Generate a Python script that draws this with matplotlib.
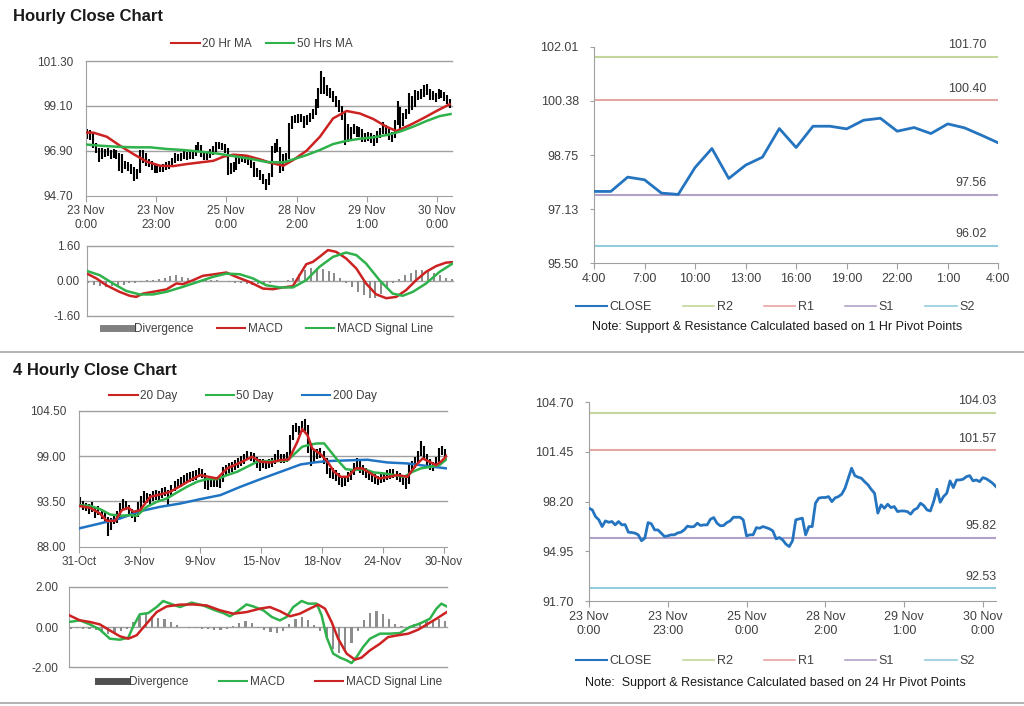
import matplotlib
matplotlib.use('Agg')
import matplotlib.pyplot as plt
from matplotlib.lines import Line2D
import numpy as np

plt.rcParams['font.family'] = ['Liberation Sans', 'DejaVu Sans']

# ------------------------------------------------------------------ data
hourly_close = [
    97.77, 97.66, 97.22, 97.01, 96.57, 96.94, 96.85, 96.90, 96.68, 96.90,
    96.68, 96.70, 96.20, 96.18, 96.14, 96.03, 95.64, 95.81, 96.83, 96.75,
    96.35, 96.35, 96.14, 95.92, 95.96, 96.03, 96.03, 96.15, 96.20, 96.35,
    96.60, 96.55, 96.57, 96.79, 96.64, 96.68, 96.68, 97.05, 97.16, 96.79,
    96.62, 96.64, 96.83, 96.94, 97.18, 97.18, 97.18, 97.01, 95.96, 96.03,
    96.03, 96.50, 96.46, 96.57, 96.50, 96.42, 96.29, 95.77, 95.85, 95.70,
    95.42, 95.26, 95.64, 97.01, 97.07, 97.12, 96.03, 96.57, 96.57, 98.10,
    98.43, 98.47, 98.47, 98.53, 98.20, 98.45, 98.53, 98.69, 99.08, 99.73,
    100.39, 99.90, 99.80, 99.73, 99.50, 99.30, 99.00, 98.75, 97.45, 97.99,
    97.77, 98.03, 97.81, 97.88, 97.55, 97.59, 97.59, 97.55, 97.38, 97.66,
    97.77, 98.10, 97.94, 97.66, 97.59, 98.20, 99.01, 98.16, 98.53, 98.75,
    99.56, 99.12, 99.62, 99.62, 99.67, 99.84, 99.90, 99.56, 99.62, 99.51,
    99.77, 99.70, 99.56, 99.40, 99.18]
hourly_low = [
    97.50, 97.45, 97.05, 96.80, 96.35, 96.50, 96.60, 96.65, 96.50, 96.55,
    96.50, 95.90, 95.80, 96.00, 95.90, 95.75, 95.40, 95.50, 95.80, 96.30,
    96.15, 96.10, 95.95, 95.80, 95.80, 95.85, 95.85, 95.95, 96.00, 96.15,
    96.30, 96.40, 96.40, 96.50, 96.45, 96.50, 96.50, 96.65, 96.90, 96.60,
    96.45, 96.45, 96.55, 96.70, 96.85, 97.00, 96.95, 96.80, 95.70, 95.75,
    95.85, 95.95, 96.25, 96.35, 96.30, 96.20, 96.05, 95.60, 95.60, 95.45,
    95.25, 95.00, 95.20, 95.60, 96.80, 96.85, 95.80, 95.90, 96.30, 96.50,
    97.95, 98.25, 98.25, 98.30, 98.00, 98.15, 98.30, 98.45, 98.65, 99.00,
    99.70, 99.70, 99.60, 99.50, 99.30, 99.05, 98.80, 98.40, 97.20, 97.35,
    97.50, 97.70, 97.60, 97.60, 97.35, 97.35, 97.40, 97.30, 97.15, 97.30,
    97.55, 97.70, 97.70, 97.45, 97.35, 97.55, 98.15, 97.95, 98.10, 98.45,
    98.70, 98.90, 99.05, 99.40, 99.45, 99.55, 99.65, 99.40, 99.40, 99.30,
    99.45, 99.50, 99.35, 99.20, 99.00]
hourly_high = [
    97.95, 97.90, 97.75, 97.30, 97.05, 97.05, 97.00, 97.05, 96.95, 97.00,
    96.95, 96.80, 96.75, 96.40, 96.35, 96.25, 96.10, 96.00, 96.95, 96.95,
    96.80, 96.50, 96.40, 96.20, 96.15, 96.20, 96.25, 96.35, 96.40, 96.55,
    96.80, 96.75, 96.80, 97.00, 96.85, 96.90, 96.90, 97.20, 97.35, 97.20,
    96.90, 96.85, 97.00, 97.15, 97.35, 97.35, 97.30, 97.25, 97.05, 96.30,
    96.35, 96.65, 96.65, 96.75, 96.70, 96.60, 96.50, 96.35, 96.05, 95.95,
    95.75, 95.50, 95.80, 97.15, 97.30, 97.50, 97.10, 96.75, 96.80, 98.25,
    98.60, 98.65, 98.70, 98.70, 98.60, 98.65, 98.75, 98.95, 99.45, 100.00,
    100.80, 100.50, 100.10, 100.00, 99.85, 99.60, 99.40, 99.10, 98.85, 98.20,
    98.05, 98.20, 98.10, 98.05, 97.95, 97.75, 97.80, 97.75, 97.65, 97.85,
    98.00, 98.30, 98.15, 97.95, 97.80, 98.40, 99.35, 99.05, 98.75, 98.95,
    99.75, 99.60, 99.90, 99.85, 99.95, 100.10, 100.15, 99.95, 99.85, 99.75,
    99.95, 99.90, 99.80, 99.65, 99.45]
hourly_ticks = ['23 Nov\n0:00', '23 Nov\n23:00', '25 Nov\n0:00',
                '28 Nov\n2:00', '29 Nov\n1:00', '30 Nov\n0:00']

ma20_x = [0, 2.6, 7.2, 11.7, 16.3, 20.8, 25.4, 29.9, 34.5, 39, 43.6, 47, 50.4,
          55, 59.5, 62.9, 67.5, 70.9, 75.4, 80, 84.5, 89.1, 93.6, 98.2, 102.7,
          106.1, 110.7, 115.2, 119.8, 124.3]
ma20 = [97.79, 97.79, 97.59, 97.15, 96.74, 96.37, 96.17, 96.15, 96.25, 96.33,
        96.41, 96.61, 96.71, 96.66, 96.48, 96.32, 96.17, 96.45, 96.90, 97.59,
        98.49, 98.85, 98.73, 98.46, 98.08, 97.87, 98.16, 98.49, 98.85, 99.18]
ma50_x = [0, 4.9, 10.6, 16.3, 22, 27.6, 33.3, 39, 44.7, 50.4, 56.1, 61.8, 67.5,
          70.9, 75.4, 80, 84.5, 89.1, 93.6, 98.2, 102.7, 107.3, 111.8, 116.4,
          120.9, 124.6]
ma50 = [97.21, 97.15, 97.10, 97.07, 97.07, 96.99, 96.94, 96.86, 96.77, 96.64,
        96.51, 96.35, 96.33, 96.48, 96.69, 96.94, 97.23, 97.39, 97.49, 97.56,
        97.67, 97.84, 98.08, 98.36, 98.60, 98.70]

h1_macd_x = [0, 3.2, 6.6, 11.1, 14.6, 16.8, 19.1, 22.5, 27.1, 30.5, 32.8, 36.2,
             39.6, 43, 47.6, 51, 55.5, 60.1, 63.5, 66.9, 70.3, 72.6, 74.9, 77.1,
             79.4, 82.3, 85.1, 88.5, 92, 95.3, 98.7, 102.2, 105.6, 109, 112.4,
             115.8, 119.2, 122.6, 124.9]
h1_macd = [0.33, 0.11, -0.20, -0.50, -0.68, -0.73, -0.58, -0.50, -0.39, -0.12,
           -0.15, 0.03, 0.23, 0.29, 0.38, 0.18, -0.05, -0.35, -0.38, -0.30,
           -0.24, 0.26, 0.76, 0.86, 1.09, 1.40, 1.32, 1.02, 0.56, -0.12, -0.61,
           -0.79, -0.73, -0.42, 0.03, 0.41, 0.67, 0.83, 0.85]
h1_sig_x = [0, 4.3, 8.9, 13.4, 18, 22.5, 27.1, 32.8, 38.5, 43, 47.6, 52.2, 56.7,
            61.2, 65.8, 70.3, 74.9, 79.4, 84, 88.5, 92, 95.3, 99.9, 104.4, 107.8,
            111.3, 115.8, 120.4, 124.9]
h1_sig = [0.45, 0.26, -0.12, -0.46, -0.62, -0.62, -0.50, -0.27, -0.02, 0.18,
          0.33, 0.30, 0.11, -0.20, -0.30, -0.30, 0.03, 0.64, 1.09, 1.29, 1.17,
          0.79, 0.03, -0.58, -0.68, -0.50, -0.12, 0.41, 0.79]
h1_div = [-0.10, -0.20, -0.25, -0.27, -0.25, -0.22, -0.18, -0.12, -0.08, -0.03,
          0.02, 0.05, 0.10, 0.15, 0.22, 0.25, 0.18, 0.12, 0.08, 0.05, 0.04, 0.05,
          0.03, 0.00, -0.05, -0.10, -0.12, -0.15, -0.17, -0.15, -0.12, -0.08,
          -0.05, 0.00, 0.05, 0.12, 0.30, 0.48, 0.60, 0.58, 0.52, 0.45, 0.35,
          0.15, -0.10, -0.30, -0.50, -0.65, -0.78, -0.80, -0.60, -0.35, -0.10,
          0.10, 0.25, 0.38, 0.48, 0.50, 0.45, 0.35, 0.25, 0.15, 0.10]

last24_close = [97.66, 97.66, 98.09, 98.01, 97.61, 97.57, 98.38, 98.95, 98.05,
                98.45, 98.69, 99.55, 98.98, 99.62, 99.62, 99.54, 99.80, 99.86,
                99.47, 99.58, 99.40, 99.69, 99.57, 99.35, 99.12]
last24_ticks = ['4:00', '7:00', '10:00', '13:00', '16:00', '19:00', '22:00',
                '1:00', '4:00']

pivot_names = ['R2', 'R1', 'S1', 'S2']
pivot_1h = [101.70, 100.40, 97.56, 96.02]
pivot_24h = [104.03, 101.57, 95.82, 92.53]

h4_low = [
    92.9, 92.5, 92.3, 92.0, 92.2, 91.5, 91.9, 91.4, 91.0, 89.3,
    90.0, 90.7, 90.9, 91.4, 92.5, 92.5, 91.8, 91.5, 91.0, 91.6,
    92.6, 93.3, 93.3, 93.0, 93.6, 93.7, 93.5, 93.9, 94.1, 93.1,
    94.2, 94.8, 95.1, 95.3, 95.5, 95.7, 95.9, 96.0, 96.1, 96.4,
    96.3, 95.0, 94.9, 95.2, 95.3, 95.3, 95.1, 95.9, 96.7, 96.9,
    97.1, 97.3, 97.5, 97.8, 98.0, 98.5, 98.4, 98.3, 97.5, 97.2,
    97.5, 97.4, 97.6, 97.7, 98.0, 98.4, 98.2, 98.1, 98.3, 98.8,
    101.0, 101.9, 101.5, 101.9, 102.0, 99.4, 97.8, 98.2, 98.7, 98.8,
    98.0, 96.8, 96.3, 96.2, 96.0, 95.5, 95.3, 95.4, 95.8, 96.1,
    96.7, 97.4, 97.0, 96.7, 96.3, 96.1, 95.9, 95.6, 95.5, 95.7,
    95.8, 96.1, 96.2, 96.3, 96.1, 95.9, 95.5, 95.0, 95.6, 97.2,
    97.6, 98.2, 99.0, 98.5, 97.9, 97.3, 97.2, 97.5, 98.3, 99.1,
    98.9]
h4_high = [
    94.0, 93.6, 93.3, 93.2, 93.4, 92.8, 92.9, 92.6, 92.3, 91.6,
    91.5, 91.9, 92.3, 93.3, 93.8, 93.5, 93.1, 92.6, 92.3, 93.4,
    94.2, 94.7, 94.5, 94.4, 94.8, 94.9, 94.7, 95.1, 95.3, 94.9,
    95.5, 96.0, 96.2, 96.5, 96.7, 96.9, 97.1, 97.2, 97.3, 97.6,
    97.4, 96.9, 96.3, 96.4, 96.5, 96.3, 96.3, 97.7, 97.9, 98.1,
    98.3, 98.5, 98.8, 99.0, 99.3, 99.6, 99.5, 99.4, 98.9, 98.7,
    98.6, 98.5, 98.7, 98.8, 99.3, 99.7, 99.3, 99.2, 99.5, 101.6,
    102.8, 103.0, 102.7, 103.2, 103.5, 102.8, 100.3, 99.7, 99.9, 100.0,
    99.6, 98.8, 97.6, 97.5, 97.3, 96.9, 96.5, 96.6, 97.1, 97.4,
    98.1, 98.8, 98.4, 97.9, 97.5, 97.3, 97.1, 96.8, 96.6, 96.9,
    97.0, 97.3, 97.4, 97.4, 97.2, 97.0, 96.7, 96.3, 98.0, 98.4,
    98.9, 99.6, 100.8, 100.2, 99.2, 98.6, 98.3, 98.9, 100.0, 100.2,
    99.9]
h4_ticks = ['31-Oct', '3-Nov', '9-Nov', '15-Nov', '18-Nov', '24-Nov', '30-Nov']

d20_x = [0, 3.7, 7, 9.2, 12, 14.2, 16.4, 18, 20.2, 23.5, 26.8, 30.1, 33.4, 36.7,
         40, 42.7, 45.5, 48.8, 53.2, 57, 59.8, 63.1, 66.4, 69.1, 71.9, 73.5,
         75.2, 76.8, 79.6, 81.8, 84, 86.2, 88.4, 91.1, 93.3, 96, 98.8, 102.1,
         104.8, 108.1, 110.9, 113.1, 115.3, 117.5, 119.1, 121]
d20 = [92.96, 92.72, 92.03, 91.14, 91.14, 92.44, 92.72, 92.23, 92.44, 94.05,
       94.34, 94.66, 95.35, 96.08, 96.69, 96.48, 96.28, 97.50, 98.22, 98.91,
       98.31, 98.22, 98.51, 98.59, 100.73, 102.27, 101.54, 99.92, 99.20, 98.31,
       97.09, 96.48, 96.48, 97.50, 97.50, 96.89, 96.28, 96.48, 96.69, 96.48,
       97.90, 98.71, 98.31, 97.90, 98.31, 99.03]
d50_x = [0, 3.7, 7, 10.3, 13.6, 16.9, 19.1, 22.4, 25.7, 29, 32.3, 35.6, 38.9,
         42.2, 45.5, 48.8, 52.1, 55.4, 58.7, 62, 65.3, 68.6, 70.8, 73.5, 76.3,
         78.5, 80.7, 82.9, 85.1, 87.8, 90.5, 93.8, 97.1, 100.4, 103.7, 107,
         109.8, 112.5, 115.8, 118.6, 121]
d50 = [93.04, 92.96, 92.56, 91.91, 91.75, 91.83, 91.75, 92.84, 93.45, 93.85,
       94.58, 95.27, 95.88, 96.20, 96.20, 96.69, 97.09, 97.70, 98.31, 98.39,
       98.39, 98.47, 99.20, 100.13, 100.41, 100.53, 100.53, 99.52, 98.51,
       97.41, 97.29, 97.41, 97.01, 96.89, 96.69, 96.48, 97.09, 97.50, 97.70,
       97.90, 98.63]
d200_x = [0, 7, 13.6, 20.2, 26.8, 33.4, 40, 46.6, 53.2, 59.8, 66.4, 73, 77.4,
          81.8, 88.4, 94.9, 101.5, 108.1, 114.7, 121]
d200 = [90.21, 90.82, 91.42, 92.31, 92.84, 93.24, 93.77, 94.26, 95.27, 96.20,
        97.09, 97.98, 98.22, 98.39, 98.47, 98.55, 98.22, 98.10, 97.78, 97.50]

h4_macd_x = [0, 3.4, 6.6, 9.8, 13, 16.2, 18.9, 20.5, 22.6, 25.3, 28, 30.1, 32.3,
             35.5, 39.2, 42.9, 46.2, 49.4, 51.5, 53.6, 56.8, 59, 62.2, 64.9,
             67.5, 69.7, 71.8, 74.5, 76.6, 79.3, 80.9, 82.5, 84.6, 86.8, 88.9,
             90.5, 92.1, 94.2, 96.4, 99.6, 102.8, 106, 109.2, 112.4, 115.6,
             117.7, 119.3, 121]
h4_macd = [0.25, 0.33, 0.13, -0.13, -0.58, -0.63, -0.53, 0.03, 0.63, 0.69, 0.99,
           1.29, 1.16, 0.99, 1.21, 1.07, 0.86, 0.69, 0.53, 0.74, 1.12, 1.02,
           0.83, 0.50, 0.33, 0.50, 0.99, 1.29, 1.16, 1.16, 0.58, -0.50, -1.32,
           -1.52, -1.65, -1.79, -1.49, -0.99, -0.58, -0.33, -0.33, -0.30, 0.00,
           0.17, 0.41, 0.91, 1.16, 1.02]
h4_sig_x = [0, 3.4, 6.6, 9.8, 13, 16.2, 18.9, 21.6, 24.8, 28, 31.2, 35.5, 39.7,
            44, 48.3, 52.6, 56.8, 61.1, 64.3, 67.5, 70.7, 73.9, 77.1, 79.8, 82,
            84.1, 86.2, 88.9, 91.6, 93.7, 96.4, 99.6, 102.2, 105.4, 108.7,
            111.9, 115.1, 117.7, 121]
h4_sig = [0.58, 0.33, 0.25, 0.13, -0.17, -0.46, -0.58, -0.41, 0.17, 0.74, 1.02,
          1.11, 1.12, 1.07, 0.83, 0.66, 0.74, 0.91, 0.99, 0.79, 0.53, 0.66, 0.91,
          1.11, 0.91, 0.25, -0.58, -1.32, -1.62, -1.52, -1.16, -0.83, -0.50,
          -0.41, -0.33, -0.13, 0.17, 0.41, 0.74]
h4_div = [-0.10, -0.05, -0.08, -0.12, -0.15, -0.25, -0.35, -0.30, -0.20, -0.08,
          0.25, 0.55, 0.65, 0.55, 0.45, 0.40, 0.25, 0.10, 0.02, -0.05, -0.05,
          -0.08, -0.12, -0.15, -0.15, -0.10, 0.05, 0.20, 0.32, 0.20, -0.05,
          -0.15, -0.25, -0.30, -0.20, 0.15, 0.40, 0.50, 0.35, 0.10, -0.20,
          -0.60, -1.10, -1.30, -1.20, -0.80, -0.20, 0.35, 0.70, 0.78, 0.65,
          0.40, 0.15, 0.05, 0.02, 0.15, 0.25, 0.30, 0.35, 0.38, 0.30]

# ------------------------------------------------------------------ style
GRID = '#a0a0a0'
RED = '#cc2222'
GREEN = '#2fb24c'
BLUE = '#1f74c4'
CLOSE = '#2474c0'
PIVOT_COLORS = ['#c3d69b', '#e6a6a4', '#b3a2c7', '#93cddd']
TXT = '#404040'

W, H = 1024, 706
fig = plt.figure(figsize=(W / 100, H / 100), dpi=100)


def rect(x0, y0, x1, y1):
    return [x0 / W, 1 - y1 / H, (x1 - x0) / W, (y1 - y0) / H]


def base_axes(ax, yticks, ylabels, grid_vals, bottom=True, ysize=8.5,
              xsize=8.5, ypad=3, ylen=0):
    for s in ['top', 'right']:
        ax.spines[s].set_visible(False)
    ax.spines['left'].set_color(GRID)
    ax.spines['bottom'].set_color(GRID)
    ax.spines['bottom'].set_visible(bottom)
    ax.set_yticks(yticks)
    ax.set_yticklabels(ylabels)
    ax.tick_params(axis='y', length=ylen, color=GRID, labelsize=ysize, pad=ypad,
                   labelcolor=TXT)
    ax.tick_params(axis='x', length=4, color=GRID, labelsize=xsize, pad=3,
                   labelcolor=TXT)
    for v in grid_vals:
        ax.axhline(v, color=GRID, lw=1.0, zorder=0, clip_on=False)
    ax.set_facecolor('none')


def legend(handles, labels, fx, fy, fs=8.5, hl=2.4, cs=2.3):
    fig.legend(handles, labels, loc='center', bbox_to_anchor=(fx / W, 1 - fy / H),
               ncol=len(labels), frameon=False, fontsize=fs, handlelength=hl,
               handletextpad=0.2, columnspacing=cs, labelcolor=TXT)


# titles & separators
fig.text(13 / W, 1 - 16 / H, 'Hourly Close Chart', fontsize=12, fontweight='bold',
         va='center', ha='left', color='#1a1a1a')
fig.text(13 / W, 1 - 370 / H, '4 Hourly Close Chart', fontsize=12,
         fontweight='bold', va='center', ha='left', color='#1a1a1a')
for yy in (352, 703):
    fig.add_artist(Line2D([0, 1], [1 - yy / H] * 2, transform=fig.transFigure,
                          color='#a6a6a6', lw=1.2))

# ---------------------------------------------------------- hourly candles
n1 = len(hourly_close)
xb = np.arange(n1) + 0.5
ax1 = fig.add_axes(rect(85.7, 61, 451.7, 195.7))
ax1.vlines(xb, hourly_low, hourly_high, color='black', lw=1.5, zorder=2)
ax1.plot(ma20_x, ma20, color=RED, lw=1.8, zorder=3)
ax1.plot(ma50_x, ma50, color=GREEN, lw=1.8, zorder=3)
ax1.set_xlim(0, n1)
ax1.set_ylim(94.70, 101.30)
base_axes(ax1, [94.70, 96.90, 99.10, 101.30], ['94.70', '96.90', '99.10', '101.30'],
          [96.90, 99.10, 101.30], ypad=9)
ax1.set_xticks(np.arange(0, n1, 24))
ax1.set_xticklabels(hourly_ticks)
legend([Line2D([], [], color=RED, lw=1.5), Line2D([], [], color=GREEN, lw=1.5)],
       ['20 Hr MA', '50 Hrs MA'], 262, 44, cs=1.2)

# ---------------------------------------------------------- hourly MACD
ax2 = fig.add_axes(rect(87, 245.7, 453, 316))
ax2.bar(np.arange(0, n1, 2) + 0.5, h1_div, width=0.7, color='#8c8c8c', zorder=1)
ax2.plot(h1_macd_x, h1_macd, color=RED, lw=1.8, zorder=3)
ax2.plot(h1_sig_x, h1_sig, color=GREEN, lw=1.8, zorder=3)
ax2.set_xlim(0, n1)
ax2.set_ylim(-1.6, 1.6)
base_axes(ax2, [-1.6, 0, 1.6], ['-1.60', '0.00', '1.60'], [-1.6, 0, 1.6],
          bottom=False, ypad=5)
ax2.set_xticks([])
legend([Line2D([], [], color='#808080', lw=5), Line2D([], [], color=RED, lw=1.5),
        Line2D([], [], color=GREEN, lw=1.5)],
       ['Divergence', 'MACD', 'MACD Signal Line'], 268, 329, cs=2.0)

# ---------------------------------------------------------- last 24 hours
ax3 = fig.add_axes(rect(594, 46.7, 998.3, 263.3))
n3 = len(last24_close)
for val, col in zip(pivot_1h, PIVOT_COLORS):
    ax3.axhline(val, color=col, lw=1.5, zorder=1)
    ax3.annotate(f'{val:.2f}', xy=(23.3, val), xytext=(0, 4),
                 textcoords='offset points', ha='right', va='bottom',
                 fontsize=9, color=TXT)
ax3.plot(np.arange(n3), last24_close, color=CLOSE, lw=2.0, zorder=3)
ax3.set_xlim(0, n3 - 1)
ax3.set_ylim(95.50, 102.01)
base_axes(ax3, [95.50, 97.1275, 98.755, 100.3825, 102.01],
          ['95.50', '97.13', '98.75', '100.38', '102.01'], [],
          ysize=9, xsize=9, ypad=8, ylen=3)
ax3.set_xticks(np.arange(0, n3, 3))
ax3.set_xticklabels(last24_ticks)
legend([Line2D([], [], color=CLOSE, lw=1.5)] +
       [Line2D([], [], color=c, lw=1.2) for c in PIVOT_COLORS],
       ['CLOSE'] + pivot_names, 775, 307, fs=9, hl=2.5, cs=2.5)
fig.text(777 / W, 1 - 327 / H,
         'Note: Support & Resistance Calculated based on 1 Hr Pivot Points',
         ha='center', va='center', fontsize=9, color='#1a1a1a')

# ---------------------------------------------------------- 4 hourly candles
n4 = len(h4_low)
ax4 = fig.add_axes(rect(78.7, 410.7, 446.7, 546.7))
ax4.vlines(np.arange(n4) + 0.5, h4_low, h4_high, color='black', lw=1.5, zorder=2)
ax4.plot(d200_x, d200, color=BLUE, lw=1.8, zorder=3)
ax4.plot(d50_x, d50, color=GREEN, lw=1.8, zorder=3)
ax4.plot(d20_x, d20, color=RED, lw=1.8, zorder=4)
ax4.set_xlim(0, n4)
ax4.set_ylim(88.0, 104.5)
base_axes(ax4, [88.0, 93.5, 99.0, 104.5], ['88.00', '93.50', '99.00', '104.50'],
          [93.5, 99.0, 104.5], ypad=9)
ax4.set_xticks(np.arange(0, n4, 20))
ax4.set_xticklabels(h4_ticks)
legend([Line2D([], [], color=RED, lw=1.5), Line2D([], [], color=GREEN, lw=1.5),
        Line2D([], [], color=BLUE, lw=1.5)],
       ['20 Day', '50 Day', '200 Day'], 243, 396, cs=2.4)

# ---------------------------------------------------------- 4 hourly MACD
ax5 = fig.add_axes(rect(69.3, 586.7, 446.7, 667.3))
ax5.bar(np.arange(0, n4, 2) + 0.5, h4_div, width=0.7, color='#8c8c8c', zorder=1)
ax5.plot(h4_macd_x, h4_macd, color=GREEN, lw=1.8, zorder=3)
ax5.plot(h4_sig_x, h4_sig, color=RED, lw=1.8, zorder=3)
ax5.set_xlim(0, n4)
ax5.set_ylim(-2.0, 2.0)
base_axes(ax5, [-2, 0, 2], ['-2.00', '0.00', '2.00'], [-2, 0, 2], bottom=False,
          ypad=8)
ax5.set_xticks([])
legend([Line2D([], [], color='#505050', lw=5), Line2D([], [], color=GREEN, lw=1.5),
        Line2D([], [], color=RED, lw=1.5)],
       ['Divergence', 'MACD', 'MACD Signal Line'], 270, 682, cs=2.6)

# ---------------------------------------------------------- hourly close line
ax6 = fig.add_axes(rect(589, 402.3, 996, 601))
for val, col in zip(pivot_24h, PIVOT_COLORS):
    ax6.axhline(val, color=col, lw=1.5, zorder=1)
    ax6.annotate(f'{val:.2f}', xy=(n1 - 1, val), xytext=(0, 4),
                 textcoords='offset points', ha='right', va='bottom',
                 fontsize=9, color=TXT)
ax6.plot(np.arange(n1), hourly_close, color=CLOSE, lw=2.0, zorder=3)
ax6.set_xlim(0, n1 - 1)
ax6.set_ylim(91.70, 104.70)
base_axes(ax6, [91.70, 94.95, 98.20, 101.45, 104.70],
          ['91.70', '94.95', '98.20', '101.45', '104.70'], [],
          ysize=9, xsize=9, ypad=8, ylen=3)
ax6.set_xticks(np.arange(0, n1, 24))
ax6.set_xticklabels(hourly_ticks)
legend([Line2D([], [], color=CLOSE, lw=1.5)] +
       [Line2D([], [], color=c, lw=1.2) for c in PIVOT_COLORS],
       ['CLOSE'] + pivot_names, 775, 661, fs=9, hl=2.5, cs=2.5)
fig.text(775 / W, 1 - 683 / H,
         'Note:  Support & Resistance Calculated based on 24 Hr Pivot Points',
         ha='center', va='center', fontsize=9, color='#1a1a1a')

fig.savefig('out.png', dpi=100, facecolor='white')
